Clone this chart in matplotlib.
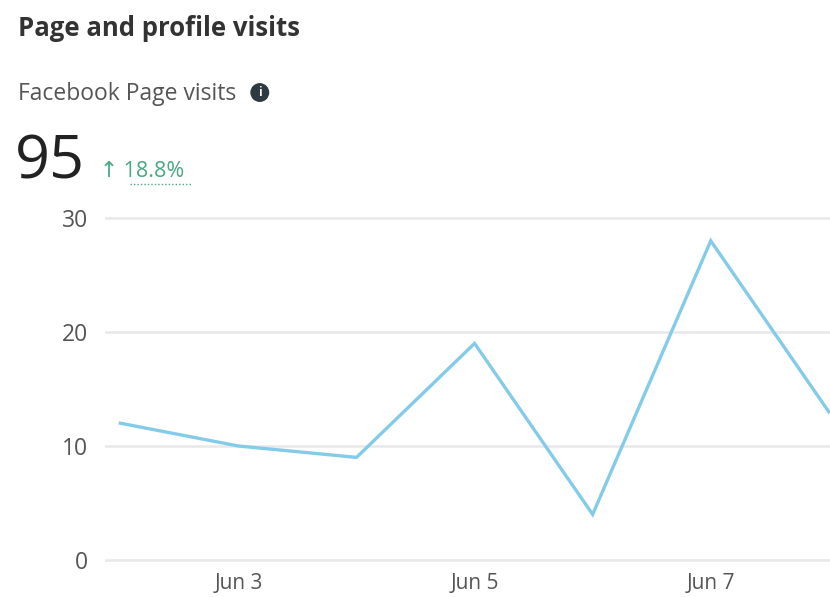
import matplotlib.pyplot as plt
from matplotlib.lines import Line2D

days = ['Jun 2', 'Jun 3', 'Jun 4', 'Jun 5', 'Jun 6', 'Jun 7', 'Jun 8']
visits = [12, 10, 9, 19, 4, 28, 13]
total = 95
change = '18.8%'
yticks = [0, 10, 20, 30]
xtick_idx = [1, 3, 5]

plt.rcParams['font.family'] = ['Open Sans', 'DejaVu Sans']

fig = plt.figure(figsize=(8.3, 5.97), dpi=100)
ax = fig.add_axes([0.1265, 0.0429, 0.8735, 0.6110])

x = list(range(len(days)))
ax.plot(x, visits, color='#84cbea', lw=2.4, solid_joinstyle='miter', zorder=3)

ax.set_xlim(-0.13, 6.01)
ax.set_ylim(-1, 31)
ax.set_yticks(yticks)
ax.set_yticklabels([str(v) for v in yticks])
ax.set_xticks(xtick_idx)
ax.set_xticklabels([days[i] for i in xtick_idx])
ax.grid(axis='y', color='#e8e8e8', lw=1.8)
ax.grid(axis='x', visible=False)
for s in ax.spines.values():
    s.set_visible(False)
ax.tick_params(length=0, labelsize=16.5, colors='#555555')
ax.tick_params(axis='y', pad=12)
ax.tick_params(axis='x', pad=1, labelsize=15)

# header texts
fig.text(0.022, 0.952, 'Page and profile visits', fontsize=18.5, fontweight='bold',
         color='#333333', va='center')
fig.text(0.022, 0.843, 'Facebook Page visits', fontsize=16.5, color='#555555', va='center')
fig.text(0.313, 0.845, 'i', fontsize=8.5, fontweight='bold', color='white', ha='center', va='center',
         bbox=dict(boxstyle='circle,pad=0.25', fc='#2f3a40', ec='none'))
fig.text(0.018, 0.728, str(total), fontsize=44, color='#222222', va='center')
fig.text(0.120, 0.712, '\u2191 ' + change, fontsize=15.5, color='#4aa884', va='center')
fig.add_artist(Line2D([0.157, 0.231], [0.692, 0.692], transform=fig.transFigure,
                      color='#4aa884', lw=1, ls=(0, (1, 1.5))))

fig.savefig('out.png', dpi=100, facecolor='white')
